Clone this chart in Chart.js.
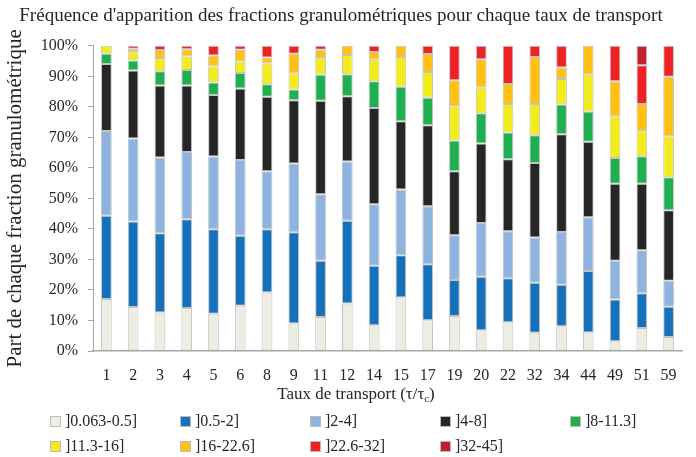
<!DOCTYPE html>
<html lang="fr">
<head>
<meta charset="utf-8">
<title>Fréquence d'apparition des fractions granulométriques</title>
<script src="https://cdn.jsdelivr.net/npm/chart.js@4/dist/chart.umd.min.js"></script>
<style>
    html, body {
        margin: 0;
        padding: 0;
        background: #ffffff;
    }
    .wrap {
        position: relative;
        width: 696px;
        height: 457px;
        font-family: 'Liberation Serif', 'DejaVu Serif', serif;
        color: #262626;
    }
    #fractionChart {
        position: absolute;
        left: 0;
        top: 0;
    }
    .x-title {
        position: absolute;
        left: 206px;
        width: 300px;
        top: 384px;
        text-align: center;
        font-size: 17px;
        line-height: 20px;
    }
    .x-title sub {
        font-size: 11px;
        vertical-align: -3px;
    }
    .legend {
        position: absolute;
        left: 50px;
        top: 411px;
        display: grid;
        grid-template-columns: repeat(5, 130px);
        row-gap: 5px;
        font-size: 16px;
        line-height: 20px;
    }
    .legend-item {
        display: flex;
        align-items: center;
        white-space: nowrap;
    }
    .legend-box {
        width: 9px;
        height: 9px;
        border: 1px solid #bdbdbd;
        margin-right: 4px;
    }
</style>
</head>
<body>
<div class="wrap">
    <canvas id="fractionChart" width="696" height="457"></canvas>
    <div class="x-title">Taux de transport (τ/τ<sub>c</sub>)</div>
    <div class="legend" id="legend"></div>
</div>

<script>
// Taux de transport (τ/τc)
const rates = ['1', '2', '3', '4', '5', '6', '8', '9', '11', '12', '14', '15', '17', '19', '20', '22', '32', '34', '44', '49', '51', '59'];

// Part de chaque fraction (%), une liste par classe granulométrique
const frac0063_05 = [17.0, 14.4, 12.6, 14.1, 12.2, 14.8, 19.2, 9.0, 11.1, 15.6, 8.4, 17.5, 10.1, 11.5, 6.8, 9.4, 6.0, 8.1, 6.1, 3.2, 7.5, 4.6];
const frac05_2 = [27.3, 28.0, 26.0, 29.1, 27.7, 23.0, 20.7, 29.9, 18.5, 27.1, 19.5, 13.9, 18.3, 11.8, 17.5, 14.4, 16.4, 13.6, 20.1, 13.7, 11.4, 9.9];
const frac2_4 = [27.8, 27.2, 24.8, 22.0, 23.8, 24.8, 19.0, 22.5, 21.8, 19.4, 20.2, 21.5, 19.0, 14.6, 17.6, 15.4, 14.8, 17.3, 17.6, 12.7, 14.1, 8.5];
const frac4_8 = [21.9, 22.3, 23.6, 21.8, 20.2, 23.4, 24.4, 20.8, 30.6, 21.4, 31.5, 22.4, 26.6, 21.0, 26.1, 23.6, 24.4, 32.0, 24.8, 25.2, 21.8, 23.1];
const frac8_113 = [3.4, 3.3, 4.7, 5.1, 4.1, 5.1, 4.1, 3.5, 8.5, 7.2, 8.8, 11.3, 9.0, 10.1, 9.9, 8.8, 9.1, 9.8, 9.9, 8.4, 9.0, 10.8];
const frac113_16 = [2.6, 2.7, 4.3, 4.4, 5.2, 3.8, 6.8, 5.3, 5.8, 6.3, 7.0, 9.7, 8.4, 11.2, 8.5, 9.3, 10.2, 8.3, 12.0, 13.7, 8.2, 13.4];
const frac16_226 = [null, 1.1, 2.6, 2.4, 3.6, 3.8, 2.0, 6.4, 2.4, 3.0, 2.6, 3.7, 5.9, 8.5, 9.2, 6.6, 15.4, 3.8, 9.5, 11.5, 8.9, 19.6];
const frac226_32 = [null, 1.0, 1.4, 1.1, 3.2, 1.3, 3.8, 2.6, 1.3, null, 2.0, null, 2.7, 11.3, 4.4, 12.5, 3.7, 7.1, null, 11.6, 12.7, 10.1];
const frac32_45 = [null, null, null, null, null, null, null, null, null, null, null, null, null, null, null, null, null, null, null, null, 6.4, null];

const fractionNames = [']0.063-0.5]', ']0.5-2]', ']2-4]', ']4-8]', ']8-11.3]', ']11.3-16]', ']16-22.6]', ']22.6-32]', ']32-45]'];
const fractionValues = [frac0063_05, frac05_2, frac2_4, frac4_8, frac8_113, frac113_16, frac16_226, frac226_32, frac32_45];
const fractionColors = ['#eeede3', '#1670ba', '#8eb3de', '#262626', '#1eb04f', '#f3eb1b', '#ffc010', '#ee2125', '#c0202a'];

const yTicks = [0, 10, 20, 30, 40, 50, 60, 70, 80, 90, 100];

const serif = "'Liberation Serif', 'DejaVu Serif', serif";
const axisGrey = '#a6a6a6';

document.addEventListener('DOMContentLoaded', function () {
    renderChart();
    renderLegend();
});

function renderChart() {
    const ctx = document.getElementById('fractionChart').getContext('2d');

    const datasets = fractionNames.map((name, i) => ({
        label: name,
        data: fractionValues[i],
        backgroundColor: fractionColors[i],
        borderColor: 'rgba(175, 175, 175, 0.75)',
        borderWidth: 1,
        borderSkipped: false,
        barPercentage: 0.4,
        categoryPercentage: 1.0
    }));

    new Chart(ctx, {
        type: 'bar',
        data: {
            labels: rates,
            datasets: datasets
        },
        options: {
            responsive: false,
            animation: false,
            layout: {
                padding: { top: 0, left: 0, right: 14, bottom: 76 }
            },
            plugins: {
                legend: { display: false },
                tooltip: { enabled: false },
                title: {
                    display: true,
                    text: "Fréquence d'apparition des fractions granulométriques pour chaque taux de transport",
                    color: '#262626',
                    font: { family: serif, size: 19, weight: 'normal' },
                    padding: { top: 5, bottom: 18 }
                }
            },
            scales: {
                x: {
                    stacked: true,
                    grid: { display: false },
                    border: { display: true, color: axisGrey, width: 1.5 },
                    ticks: {
                        color: '#262626',
                        font: { family: serif, size: 16 },
                        padding: 7,
                        maxRotation: 0,
                        autoSkip: false
                    },
                    afterFit: function (scale) {
                        scale.height = 30;
                    }
                },
                y: {
                    stacked: true,
                    min: 0,
                    max: 100,
                    afterBuildTicks: function (scale) {
                        scale.ticks = yTicks.map(v => ({ value: v }));
                    },
                    grid: {
                        display: true,
                        drawOnChartArea: false,
                        drawTicks: true,
                        tickLength: 5,
                        color: axisGrey
                    },
                    border: { display: true, color: axisGrey, width: 1 },
                    ticks: {
                        color: '#262626',
                        font: { family: serif, size: 16 },
                        padding: 10,
                        callback: v => v + '%'
                    },
                    title: {
                        display: true,
                        text: 'Part de chaque fraction granulométrique',
                        color: '#262626',
                        font: { family: serif, size: 21 },
                        padding: { top: 3, bottom: 0 }
                    },
                    afterFit: function (scale) {
                        scale.width = 93;
                    }
                }
            }
        }
    });
}

function renderLegend() {
    const container = document.getElementById('legend');
    container.innerHTML = fractionNames.map((name, i) => `
        <div class="legend-item">
            <span class="legend-box" style="background:${fractionColors[i]}"></span>
            <span>${name}</span>
        </div>
    `).join('');
}
</script>
</body>
</html>
